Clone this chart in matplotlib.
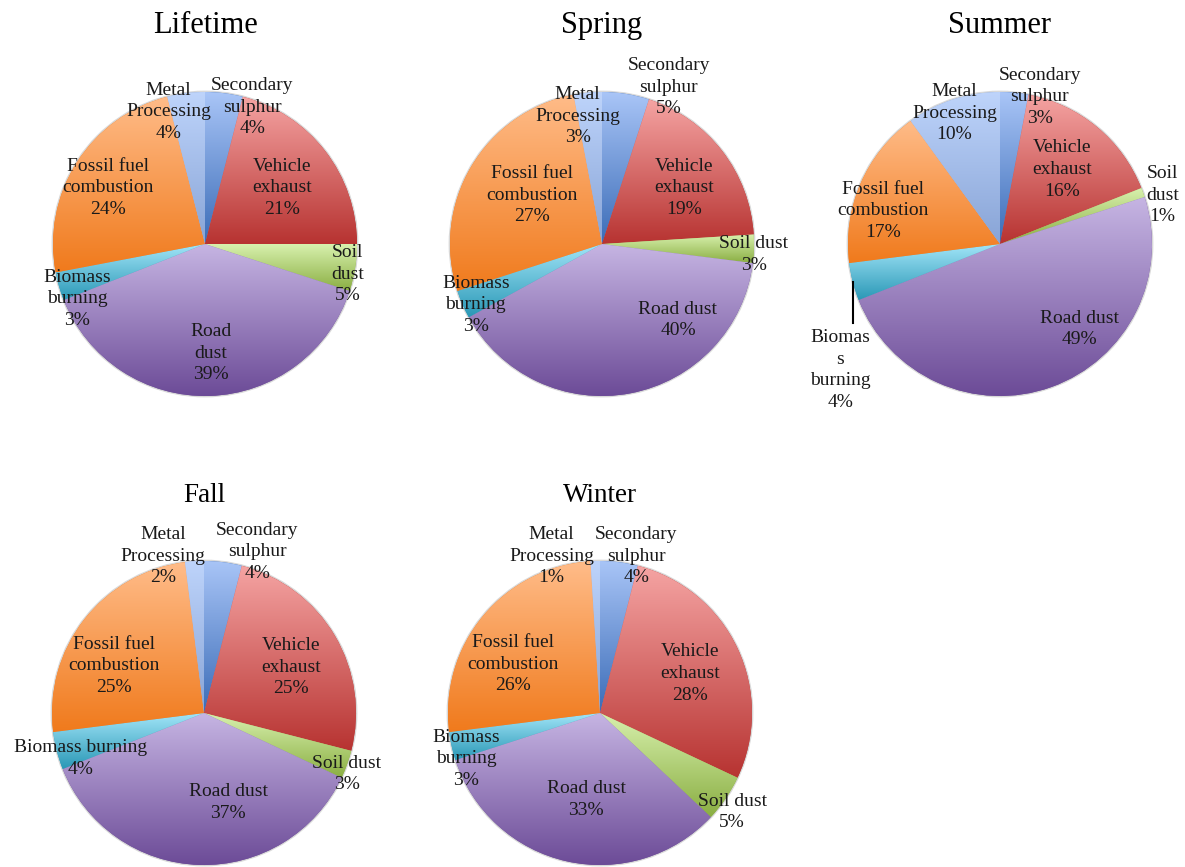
import numpy as np
import matplotlib
matplotlib.use("Agg")
import matplotlib.pyplot as plt
from matplotlib.colors import to_rgb

plt.rcParams['font.family'] = ['Liberation Serif', 'DejaVu Serif']

# Source categories, clockwise from 12 o'clock
sources = ["Secondary sulphur", "Vehicle exhaust", "Soil dust", "Road dust",
           "Biomass burning", "Fossil fuel combustion", "Metal Processing"]

# Percent contribution per period
lifetime = [4, 21, 5, 39, 3, 24, 4]
spring = [5, 19, 3, 40, 3, 27, 3]
summer = [3, 16, 1, 49, 4, 17, 10]
fall = [4, 25, 3, 37, 4, 25, 2]
winter = [4, 28, 5, 33, 3, 26, 1]

titles = ["Lifetime", "Spring", "Summer", "Fall", "Winter"]

# Excel-like gradient colours (top, bottom) per source
grad_top = ["#a9c5f7", "#f5a4a3", "#d8f1ae", "#c6b5e3", "#a2e5f8", "#ffbc89", "#bed4fb"]
grad_bot = ["#3b6cb7", "#b73331", "#8aae42", "#6c4b97", "#2a98b6", "#f07a1c", "#88a4d6"]

# label text per pie (line breaks as in the original)
lbl_life = ["Secondary\nsulphur\n4%", "Vehicle\nexhaust\n21%", "Soil\ndust\n5%", "Road\ndust\n39%",
            "Biomass\nburning\n3%", "Fossil fuel\ncombustion\n24%", "Metal\nProcessing\n4%"]
lbl_spring = ["Secondary\nsulphur\n5%", "Vehicle\nexhaust\n19%", "Soil dust\n3%", "Road dust\n40%",
              "Biomass\nburning\n3%", "Fossil fuel\ncombustion\n27%", "Metal\nProcessing\n3%"]
lbl_summer = ["Secondary\nsulphur\n3%", "Vehicle\nexhaust\n16%", "Soil\ndust\n1%", "Road dust\n49%",
              "Biomas\ns\nburning\n4%", "Fossil fuel\ncombustion\n17%", "Metal\nProcessing\n10%"]
lbl_fall = ["Secondary\nsulphur\n4%", "Vehicle\nexhaust\n25%", "Soil dust\n3%", "Road dust\n37%",
            "Biomass burning\n4%", "Fossil fuel\ncombustion\n25%", "Metal\nProcessing\n2%"]
lbl_winter = ["Secondary\nsulphur\n4%", "Vehicle\nexhaust\n28%", "Soil dust\n5%", "Road dust\n33%",
              "Biomass\nburning\n3%", "Fossil fuel\ncombustion\n26%", "Metal\nProcessing\n1%"]

# label positions in pie-radius units (layout only)
pos_life = [(0.31, 0.90), (0.51, 0.37), (0.94, -0.20), (0.04, -0.72),
            (-0.84, -0.36), (-0.64, 0.37), (-0.24, 0.87)]
pos_spring = [(0.44, 1.03), (0.54, 0.37), (1.0, -0.07), (0.50, -0.50),
              (-0.83, -0.40), (-0.46, 0.32), (-0.16, 0.84)]
pos_summer = [(0.26, 0.97), (0.41, 0.49), (1.07, 0.32), (0.52, -0.56),
              (-1.05, -0.83), (-0.77, 0.22), (-0.30, 0.86)]
pos_fall = [(0.35, 1.06), (0.57, 0.30), (0.94, -0.40), (0.16, -0.59),
            (-0.81, -0.30), (-0.59, 0.31), (-0.27, 1.03)]
pos_winter = [(0.24, 1.03), (0.59, 0.26), (0.87, -0.65), (-0.09, -0.57),
              (-0.88, -0.30), (-0.57, 0.32), (-0.32, 1.03)]

W, H = 1185, 867
fig = plt.figure(figsize=(W / 100, H / 100), dpi=100)
fig.patch.set_facecolor("white")

# pie centres / radius in pixels
centres = [(205, 244), (602, 244), (1000, 244), (204, 713), (600, 713)]
R = 152
title_sizes = [22, 22, 22, 19.5, 19.5]

datasets = [lifetime, spring, summer, fall, winter]
labelsets = [lbl_life, lbl_spring, lbl_summer, lbl_fall, lbl_winter]
possets = [pos_life, pos_spring, pos_summer, pos_fall, pos_winter]

half = 1.6  # axes half-size in radius units
for k in range(5):
    cx, cy = centres[k]
    side = 2 * half * R
    ax = fig.add_axes([(cx - side / 2) / W, 1 - (cy + side / 2) / H, side / W, side / H])
    wedges, _ = ax.pie(datasets[k], radius=1, startangle=90, counterclock=False,
                       colors=grad_bot, wedgeprops=dict(linewidth=0))
    # soft grey rim like the Excel shadow
    ax.add_patch(plt.Circle((0, 0), 1.0, fill=False, ec="#c8c8c8", lw=2.0, alpha=0.7, zorder=0.5))
    for i, w in enumerate(wedges):
        bb = w.get_path().get_extents()
        c0 = np.array(to_rgb(grad_top[i]))
        c1 = np.array(to_rgb(grad_bot[i]))
        t = np.linspace(0, 1, 256)[:, None, None]
        img = c0 * (1 - t) + c1 * t
        im = ax.imshow(img, extent=(bb.x0, bb.x1, bb.y0, bb.y1), origin="upper",
                       aspect="auto", interpolation="bilinear", zorder=2)
        im.set_clip_path(w)
    for txt, (dx, dy) in zip(labelsets[k], possets[k]):
        ax.text(dx, dy, txt, ha="center", va="center", fontsize=14, color="#1a1a1a",
                linespacing=1.35, zorder=5, clip_on=False)
    ax.text(0, 211 / R, titles[k], ha="center", va="baseline", fontsize=title_sizes[k],
            color="black", clip_on=False)
    if k == 2:
        # leader line for the biomass label
        ax.plot([-0.967, -0.967], [-0.25, -0.52], color="black", lw=1.5, zorder=5)
    ax.set_xlim(-half, half)
    ax.set_ylim(-half, half)
    ax.set_aspect("equal")
    ax.set_axis_off()

fig.savefig("out.png", dpi=100, facecolor="white")
